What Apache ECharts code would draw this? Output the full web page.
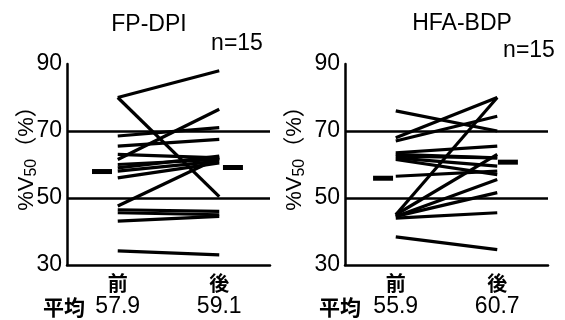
<!DOCTYPE html>
<html><head><meta charset="utf-8">
<script src="https://cdn.jsdelivr.net/npm/echarts@6/dist/echarts.min.js"></script>
<style>html,body{margin:0;padding:0;background:#fff}#c{width:565px;height:320px}</style>
</head><body><div id="c"></div>
<script>
// ---- data ----
const categories = ['前', '後'];
const titles = ['FP-DPI', 'HFA-BDP'];
const nLabels = ['n=15', 'n=15'];
const meanLabel = '平均';
const yTicks = [30, 50, 70, 90];
const refLines = [50, 70];
const fpPre  = [80, 80, 68.5, 65.5, 63, 61.5, 60, 59, 58, 56, 47.6, 46.5, 45.6, 43.1, 34.2];
const fpPost = [88, 50.4, 71, 67.5, 62, 76.5, 61.5, 62.5, 61, 60.5, 62, 46, 45, 44.5, 33];
const hfaPre  = [76, 68, 67, 63.5, 63, 62.5, 62, 61.5, 56.5, 45, 45, 44.5, 44.5, 44, 38.4];
const hfaPost = [70, 80, 74.4, 65.5, 62, 62, 59.5, 57, 58, 80, 63, 55.5, 51.6, 45.6, 34.6];
const fpMeans = [57.9, 59.1];
const hfaMeans = [55.9, 60.7];

// ---- chart ----
const chart = echarts.init(document.getElementById('c'), null, {renderer: 'canvas'});
const LATIN = '"Liberation Sans", Arial, "Noto Sans CJK JP", sans-serif';
const CJK = '"Noto Sans CJK JP", sans-serif';
const catX = [1, 3];
const dashX = [[0.69, 3.27], [0.75, 3.21]];
const panels = [
  {pre: fpPre, post: fpPost, means: fpMeans},
  {pre: hfaPre, post: hfaPost, means: hfaMeans}
];

function xAxisFor(p, gi) {
  return {
    type: 'value', gridIndex: gi, min: 0, max: 4, interval: 1,
    axisLine: {show: true, lineStyle: {color: '#000', width: 2.5}},
    axisTick: {show: false}, splitLine: {show: false},
    axisLabel: {
      margin: 6,
      formatter: function (v) {
        const i = catX.indexOf(v);
        if (i < 0) return '';
        return '{c|' + categories[i] + '}\n{n|' + p.means[i].toFixed(1) + '}';
      },
      rich: {
        c: {fontSize: 20, fontFamily: CJK, fontWeight: 'bold', color: '#000', lineHeight: 24},
        n: {fontSize: 23, fontFamily: LATIN, color: '#000', lineHeight: 24}
      }
    }
  };
}
function yAxisFor(gi) {
  return {
    type: 'value', gridIndex: gi, min: yTicks[0], max: yTicks[yTicks.length - 1],
    interval: yTicks[1] - yTicks[0],
    axisLine: {show: true, lineStyle: {color: '#000', width: 2.5}},
    axisTick: {show: false}, splitLine: {show: false},
    axisLabel: {fontSize: 23, fontFamily: LATIN, color: '#000', margin: 5}
  };
}

const series = [];
panels.forEach(function (p, gi) {
  p.pre.forEach(function (v, i) {
    series.push({
      type: 'line', xAxisIndex: gi, yAxisIndex: gi, symbol: 'none', silent: true,
      lineStyle: {color: '#000', width: 3.2},
      data: [[catX[0], v], [catX[1], p.post[i]]],
      markLine: i === 0 ? {
        silent: true, symbol: 'none', label: {show: false},
        lineStyle: {color: '#000', width: 2.5, type: 'solid'},
        data: refLines.map(function (r) { return {yAxis: r}; })
      } : undefined
    });
  });
  series.push({
    type: 'scatter', xAxisIndex: gi, yAxisIndex: gi, symbol: 'rect', symbolSize: [20, 5],
    itemStyle: {color: '#000', opacity: 1}, silent: true,
    data: p.means.map(function (m, k) { return [dashX[gi][k], m]; })
  });
});

function nameText(x, y) {
  return {
    type: 'text', x: x, y: y, rotation: Math.PI / 2,
    style: {
      text: '{a|%V}{s|50}{a|（%）}',
      align: 'center', verticalAlign: 'middle',
      rich: {
        a: {fontSize: 22, fontFamily: LATIN, fill: '#000', lineHeight: 26},
        s: {fontSize: 16, fontFamily: LATIN, fill: '#000', lineHeight: 17, verticalAlign: 'bottom'}
      }
    }
  };
}
function plainText(txt, x, y, size, family, weight) {
  return {type: 'text', x: x, y: y, style: {text: txt, fontSize: size, fontFamily: family,
    fontWeight: weight || 'normal', fill: '#000', align: 'center', verticalAlign: 'middle'}};
}

chart.setOption({
  backgroundColor: '#fff',
  animation: false,
  grid: [
    {left: 67, right: 295, top: 64, bottom: 55},
    {left: 345, right: 17, top: 64, bottom: 55}
  ],
  xAxis: [xAxisFor(panels[0], 0), xAxisFor(panels[1], 1)],
  yAxis: [yAxisFor(0), yAxisFor(1)],
  series: series,
  graphic: [
    plainText(titles[0], 149, 25, 23, LATIN),
    plainText(titles[1], 462, 24, 23, LATIN),
    plainText(nLabels[0], 237, 44, 23, LATIN),
    plainText(nLabels[1], 529, 51, 23, LATIN),
    plainText(meanLabel, 64, 307, 21, CJK, 'bold'),
    plainText(meanLabel, 340, 307, 21, CJK, 'bold'),
    nameText(27, 153),
    nameText(295, 153)
  ]
});
</script></body></html>
